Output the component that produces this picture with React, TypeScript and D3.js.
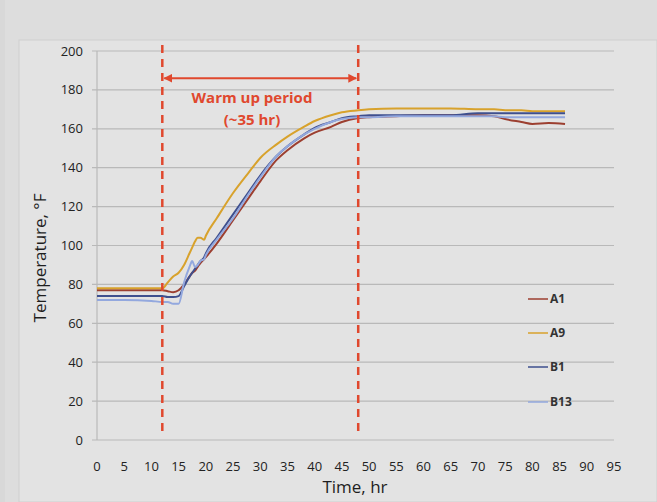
import React from "react";
import * as d3 from "d3";

// time points (hr) for every series
const hours = [0, 5, 10, 12, 13, 14, 15, 16, 17, 17.5, 18, 18.5, 19, 19.7, 20, 22, 25, 28, 30, 33, 35, 38, 40, 43, 45, 48, 50, 55, 60, 65, 70, 73, 75, 78, 80, 83, 86];

const a1 = [77, 77, 77, 77, 76.5, 76, 77, 80, 84, 86, 87, 89, 91, 93, 94, 101, 113, 125, 133, 144, 149, 155, 158, 161, 163.5, 165.5, 166, 166.5, 167, 167, 167, 166.5, 165, 163.5, 162.5, 163, 162.5];
const a9 = [78, 78, 78, 78, 81, 84, 86, 90, 96, 99, 102, 104, 104, 103, 105, 114, 127, 138, 145, 152, 156, 161, 164, 167, 168.5, 169.5, 170, 170.5, 170.5, 170.5, 170, 170, 169.5, 169.5, 169, 169, 169];
const b1 = [74, 74, 74, 74, 73.5, 73.5, 74, 79, 84, 86, 88, 90, 92, 94, 96, 104, 116, 128, 136, 146, 151, 157, 160.5, 163.5, 165.5, 166.5, 167, 167, 167, 167, 168, 168, 168, 168, 168, 168, 168];
const b13 = [72, 72, 71.5, 71, 71, 70, 70, 81, 89, 92, 89, 90, 92, 93, 95, 103, 114, 127, 135, 146, 151, 157, 160, 163.5, 165, 166, 166, 166.5, 166.5, 166.5, 166.5, 166.5, 166, 166, 166, 166, 166];

const seriesNames = ["A1", "A9", "B1", "B13"];
const seriesValues = [a1, a9, b1, b13];
const seriesColors = ["#9c3f30", "#d8a22c", "#3e4f8e", "#93a8de"];

const xTicks = d3.range(0, 100, 5);
const yTicks = d3.range(0, 220, 20);

// warm up markers
const warmStart = 12;
const warmEnd = 48;
const arrowLevel = 186;

const W = 657;
const H = 502;
const font = "'Open Sans', 'Noto Sans', sans-serif";
const red = "#e0482e";

export default function App() {
  const x = d3.scaleLinear().domain([0, 95]).range([97, 614]);
  const y = d3.scaleLinear().domain([0, 200]).range([440, 51]);

  const line = d3
    .line<number>()
    .x((_, i) => x(hours[i]))
    .y((d) => y(d))
    .curve(d3.curveMonotoneX);

  const legendY = [299, 333, 367, 402];

  return (
    <div style={{ position: "absolute", left: 0, top: 0 }}>
      <svg width={W} height={H} style={{ display: "block", fontFamily: font }}>
        <defs>
          <marker id="arr" viewBox="0 0 10 10" refX="9" refY="5" markerWidth="4" markerHeight="4" orient="auto-start-reverse">
            <path d="M0,0 L10,5 L0,10 z" fill={red} />
          </marker>
        </defs>
        <rect x={0} y={0} width={W} height={H} fill="#d8d8d8" />
        <rect x={5} y={0} width={W - 5} height={H} fill="#dddddd" />
        <rect x={19} y={40} width={W - 19} height={H - 40} fill="#e3e3e3" stroke="#cfcfcf" />

        {/* grid lines */}
        {yTicks.map((t) => (
          <line key={"g" + t} x1={92} x2={614} y1={y(t)} y2={y(t)} stroke="#b9b9b9" strokeWidth={1.2} />
        ))}
        <line x1={97} x2={97} y1={y(200)} y2={y(0)} stroke="#b9b9b9" strokeWidth={1.2} />

        {/* y tick labels */}
        {yTicks.map((t) => (
          <text key={"y" + t} x={83} y={y(t) + 4.5} textAnchor="end" fontSize={13} fontWeight={500} fill="#222">
            {t}
          </text>
        ))}
        {/* x tick labels */}
        {xTicks.map((t) => (
          <text key={"x" + t} x={x(t)} y={471} textAnchor="middle" fontSize={13} fontWeight={500} fill="#222">
            {t}
          </text>
        ))}

        <text x={355} y={493} textAnchor="middle" fontSize={17} fontWeight={500} fill="#1e1e1e">
          Time, hr
        </text>
        <text transform="translate(46,258) rotate(-90)" textAnchor="middle" fontSize={17} fontWeight={500} fill="#1e1e1e">
          Temperature, °F
        </text>

        {/* series */}
        {seriesValues.map((vals, i) => (
          <path key={seriesNames[i]} d={line(vals) || ""} fill="none" stroke={seriesColors[i]} strokeWidth={2} strokeLinejoin="round" />
        ))}

        {/* warm up period */}
        {[warmStart, warmEnd].map((t) => (
          <line key={"w" + t} x1={x(t)} x2={x(t)} y1={45} y2={437} stroke={red} strokeWidth={2.5} strokeDasharray="8,6" />
        ))}
        <line x1={x(warmStart) + 2} x2={x(warmEnd) - 2} y1={y(arrowLevel)} y2={y(arrowLevel)} stroke={red} strokeWidth={2.2} markerStart="url(#arr)" markerEnd="url(#arr)" />
        <text x={252} y={103} textAnchor="middle" fontSize={15} fontWeight="bold" fill={red}>
          Warm up period
        </text>
        <text x={252} y={125} textAnchor="middle" fontSize={15} fontWeight="bold" fill={red}>
          (~35 hr)
        </text>

        {/* legend */}
        {seriesNames.map((n, i) => (
          <g key={"l" + n}>
            <line x1={528} x2={548} y1={legendY[i]} y2={legendY[i]} stroke={seriesColors[i]} strokeWidth={1.5} />
            <text x={550} y={legendY[i] + 4} fontSize={12} fontWeight="bold" fill="#333">
              {n}
            </text>
          </g>
        ))}
      </svg>
    </div>
  );
}
